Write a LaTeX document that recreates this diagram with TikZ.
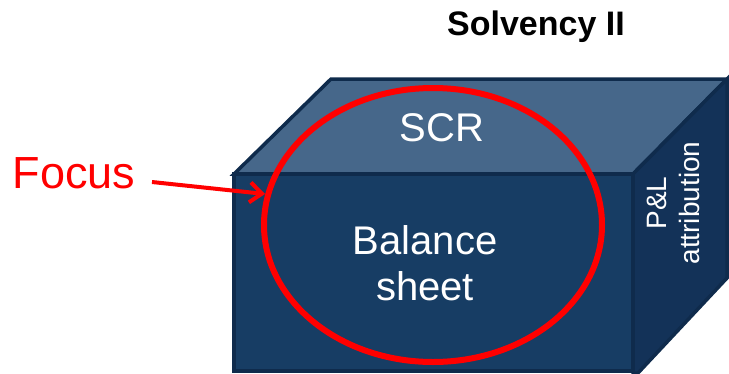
\documentclass[tikz,border=0pt]{standalone}
\usepackage{fontspec}
\setmainfont{Liberation Sans}
\usetikzlibrary{arrows.meta,shapes.geometric}
\definecolor{frontblue}{HTML}{173D64}
\definecolor{topblue}{HTML}{46678A}
\definecolor{sideblue}{HTML}{133258}
\definecolor{edgeblue}{HTML}{0F2B4C}
\definecolor{focusred}{HTML}{FF0000}
\tikzset{
  face/.style={draw=edgeblue, line width=3.5pt, line join=miter},
  boxtext/.style={text=white, font=\fontsize{40}{46}\selectfont, align=center},
  sidetext/.style={text=white, font=\fontsize{28}{33}\selectfont, align=center, rotate=90},
}
\begin{document}
\begin{tikzpicture}[x=1pt, y=-1pt]
  \useasboundingbox (0,0) rectangle (729,373);
  % cube faces
  \filldraw[face, fill=topblue] (234,174) -- (331,79) -- (727,79) -- (633,174) -- cycle;
  \filldraw[face, fill=sideblue] (633,174) -- (727,79) -- (727,278) -- (638,373) -- (633,373) -- cycle;
  \filldraw[face, fill=frontblue] (234,174) rectangle (633,371);
  % labels on the faces
  \node[boxtext] (scr) at (442,128) {SCR};
  \node[boxtext] (bs) at (425,263) {Balance\\sheet};
  \node[sidetext] (pl) at (673,203) {P\&L\\attribution};
  % title
  \node[font=\bfseries\fontsize{34}{40}\selectfont] (title) at (536,27) {Solvency II};
  % focus marker
  \node[draw=focusred, line width=6pt, ellipse, minimum width=338pt, minimum height=274pt, inner sep=0pt] (focusring) at (433,225) {};
  \node[text=focusred, font=\fontsize{45}{50}\selectfont] (focus) at (74,173) {Focus};
  \coordinate (tail) at (152,182);
  \coordinate (tip) at (265,194);
  \draw[focusred, line width=4pt, -{Straight Barb[length=12pt,width=20pt,line width=4pt]}] (tail) -- (tip);
\end{tikzpicture}
\end{document}
